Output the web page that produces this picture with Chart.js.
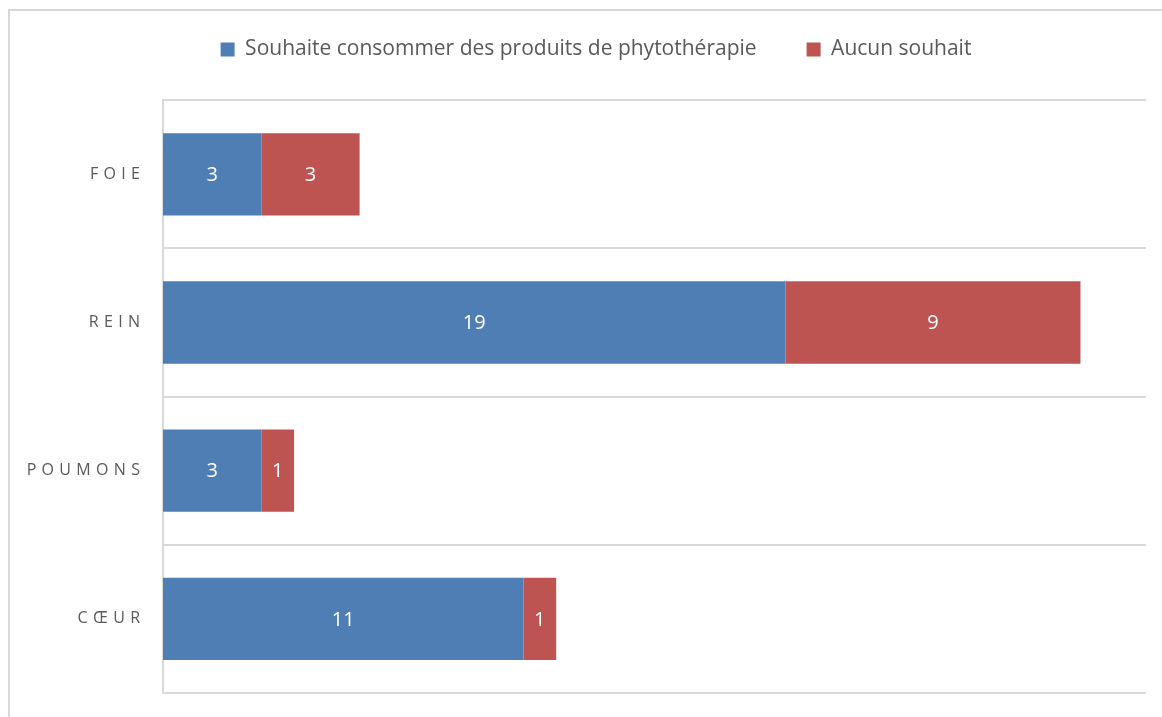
<!DOCTYPE html>
<html>
<head>
<meta charset="utf-8">
<script src="https://cdn.jsdelivr.net/npm/chart.js@4"></script>
<style>
  html, body { margin: 0; background: #fff; overflow: hidden; width: 1162px; height: 717px; }
  .frame { position: absolute; left: 8px; top: 9px; width: 1170px; height: 730px; border: 2px solid #d9d9d9; }
  #chart { position: absolute; left: 0; top: 0; }
</style>
</head>
<body>
<div class="frame"></div>
<canvas id="chart" width="1162" height="717"></canvas>
<script>
const ctx = document.getElementById('chart');

const categories = ['FOIE', 'REIN', 'POUMONS', 'CŒUR'];
const souhaite = [3, 19, 3, 11];
const aucun = [3, 9, 1, 1];

const textColor = '#595959';
const gridColor = '#d9d9d9';

// writes the value in the middle of every bar
const barLabels = {
  id: 'barLabels',
  afterDatasetsDraw(chart) {
    const c = chart.ctx;
    c.save();
    c.fillStyle = '#fff';
    c.font = '20px "Open Sans"';
    c.textAlign = 'center';
    c.textBaseline = 'middle';
    chart.data.datasets.forEach((ds, i) => {
      chart.getDatasetMeta(i).data.forEach((bar, j) => {
        const p = bar.getProps(['x', 'y', 'base']);
        c.fillText(ds.data[j], (p.x + p.base) / 2, p.y + 1);
      });
    });
    c.restore();
  },
};

// nudge the legend a bit to the right, like the original
const legendShift = {
  id: 'legendShift',
  afterLayout(chart) {
    chart.legend.left += 23;
    chart.legend.right += 23;
  },
};

new Chart(ctx, {
  type: 'bar',
  data: {
    labels: categories,
    datasets: [
      { label: 'Souhaite consommer des produits de phytothérapie', data: souhaite, backgroundColor: '#4f7eb4' },
      { label: 'Aucun souhait', data: aucun, backgroundColor: '#bd5451' },
    ],
  },
  options: {
    indexAxis: 'y',
    responsive: false,
    animation: false,
    layout: { padding: { top: -11, right: 16, bottom: 24, left: 0 } },
    datasets: {
      bar: { categoryPercentage: 1, barPercentage: 0.555, borderWidth: 0 },
    },
    plugins: {
      legend: {
        position: 'top',
        weight: 2000,
        labels: {
          color: textColor,
          font: { family: 'Open Sans', size: 21 },
          boxWidth: 14,
          boxHeight: 14,
          padding: 50,
        },
      },
      // empty spacer between legend and plot
      subtitle: { display: true, text: '', font: { size: 1 }, padding: { top: 14, bottom: 15 } },
      tooltip: { enabled: false },
    },
    scales: {
      x: {
        stacked: true,
        min: 0,
        max: 30,
        display: false,
      },
      y: {
        stacked: true,
        afterFit(scale) {
          scale.width = 163;
          scale.paddingTop = 0;
          scale.paddingBottom = 0;
        },
        grid: { color: gridColor, lineWidth: 2, drawTicks: false, offset: true },
        border: { display: true, color: gridColor, width: 2 },
        ticks: {
          color: textColor,
          padding: 23,
          font: { family: 'Open Sans', size: 16 },
          callback(v) { return this.getLabelForValue(v).split('').join('\u2004'); },
        },
      },
    },
  },
  plugins: [barLabels, legendShift],
});
</script>
</body>
</html>
